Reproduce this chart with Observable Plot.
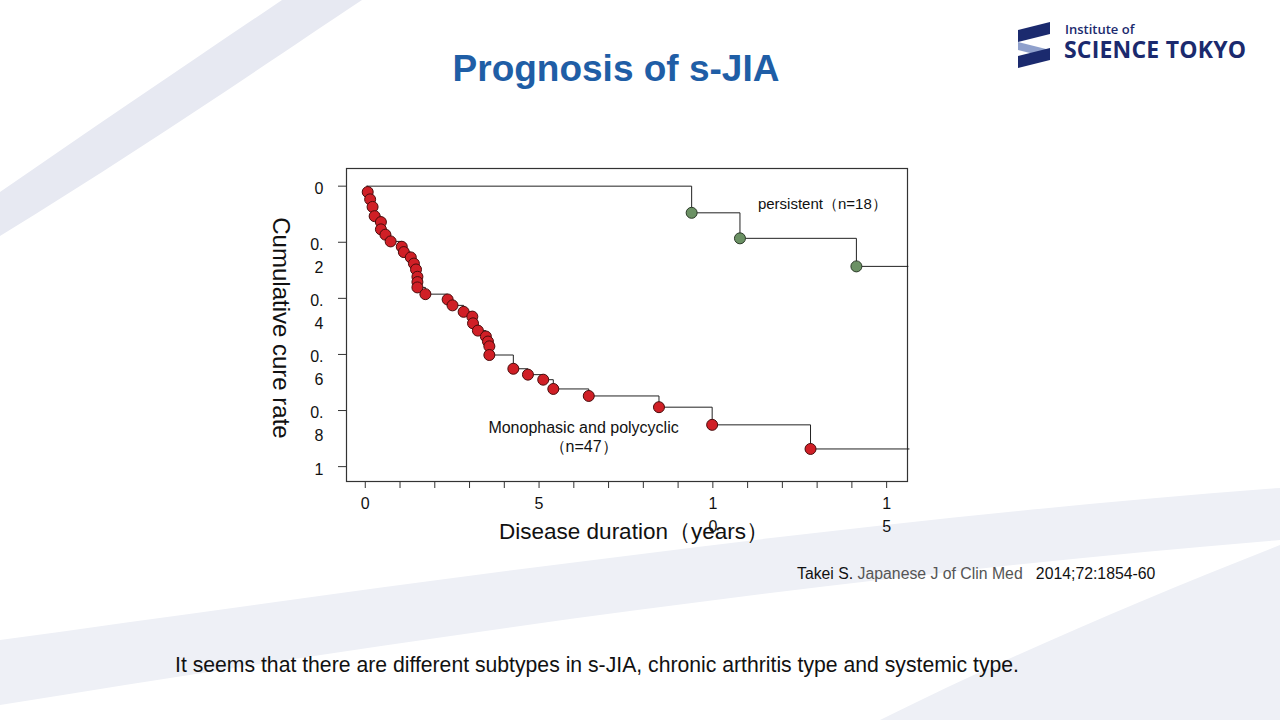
<!DOCTYPE html>
<html>
<head>
<meta charset="utf-8">
<script src="https://cdn.jsdelivr.net/npm/d3@7"></script>
<script src="https://cdn.jsdelivr.net/npm/@observablehq/plot@0.6"></script>
<style>
  html, body { margin: 0; padding: 0; background: #fff; }
  #slide { position: relative; width: 1280px; height: 720px; overflow: hidden; background: #fff;
           font-family: "Liberation Sans", Arial, sans-serif; color: #111; }
  .c { position: absolute; transform: translate(-50%, -50%); white-space: nowrap; }
  #bg { position: absolute; left: 0; top: 0; }
  #chart { position: absolute; left: 260px; top: 150px; }
</style>
</head>
<body>
<div id="slide">
  <svg id="bg" width="1280" height="720">
    <path d="M0,192 C90,130 190,62 282,0 L362,0 C260,68 140,150 0,236 Z" fill="#e7e9f2"/>
    <path d="M0,640 C400,585 850,520 1280,488 L1280,540 C850,575 400,640 0,705 Z" fill="#eef0f6"/>
    <path d="M880,720 C1000,660 1140,600 1280,545 L1280,720 Z" fill="#eef0f6"/>
  </svg>
  <div class="c" style="left:616px;top:69px;font-size:37px;font-weight:bold;color:#1f5ea6;">Prognosis of s-JIA</div>
  <svg style="position:absolute;left:1016px;top:20px" width="40" height="52">
    <path d="M2,10 L34,2 L34,14 L2,22 Z" fill="#1b2a6e"/>
    <path d="M2,22 L34,30 L34,38 L2,30 Z" fill="#8fa0cc"/>
    <path d="M2,36 L34,28 L34,40 L2,48 Z" fill="#1b2a6e"/>
  </svg>
  <div style="position:absolute;left:1065px;top:20px;font-family:'Open Sans','Noto Sans',sans-serif;font-size:13px;font-weight:600;color:#1b2a6e;">Institute of</div>
  <div style="position:absolute;left:1064px;top:33px;font-family:'Open Sans','Noto Sans',sans-serif;font-size:23px;font-weight:700;color:#1b2a6e;letter-spacing:0.2px;">SCIENCE TOKYO</div>
  <div id="chart"></div>
  <div class="c" style="left:281px;top:328px;font-size:24px;transform:translate(-50%,-50%) rotate(90deg);">Cumulative cure rate</div>
  <div class="c" style="left:634px;top:531px;font-size:22.5px;">Disease duration（years）</div>
  <div style="position:absolute;left:797px;top:565px;font-size:15.8px;white-space:nowrap;">Takei S. <span style="color:#555">Japanese J of Clin Med</span>&nbsp;&nbsp; 2014;72:1854-60</div>
  <div class="c" style="left:597px;top:665px;font-size:21.2px;">It seems that there are different subtypes in s-JIA, chronic arthritis type and systemic type.</div>
</div>
<script>
// Monophasic and polycyclic (n=47): event times (years) and cumulative cure rate
const redYears = [0.07,0.14,0.21,0.27,0.45,0.45,0.58,0.73,1.05,1.11,1.31,1.40,1.46,1.50,1.50,1.50,1.73,2.37,2.51,2.83,3.08,3.10,3.24,3.47,3.53,3.57,3.57,4.26,4.68,5.12,5.41,6.43,8.45,9.98,12.81];
const redRate  = [0.021,0.047,0.074,0.107,0.128,0.154,0.173,0.197,0.216,0.235,0.254,0.276,0.297,0.323,0.342,0.361,0.385,0.404,0.425,0.448,0.465,0.489,0.515,0.536,0.554,0.571,0.602,0.651,0.672,0.690,0.723,0.748,0.788,0.851,0.937];
// persistent (n=18)
const greenYears = [9.39, 10.78, 14.13];
const greenRate  = [0.095, 0.186, 0.286];
// follow-up window of the curves
const startYear = 0.05;
const endYear = 15.62;
// axis ticks and labels
const xTickYears = [0,1,2,3,4,5,6,7,8,9,10,11,12,13,14,15];
const xLabelYears = [0, 5, 10, 15];
const xLabelTexts = ["0", "5", "1\n0", "1\n5"];
const yTicks = [0, 0.2, 0.4, 0.6, 0.8, 1];
const yTickLabels = ["0", "0.\n2", "0.\n4", "0.\n6", "0.\n8", "1"];
// annotation texts
const labelPersistent = {text: "persistent（n=18）", year: 13.15, rate: 0.065};
const labelMono = {text: "Monophasic and polycyclic\n（n=47）", year: 6.28, rate: 0.892};

const redPts = redYears.map((t, i) => ({year: t, rate: redRate[i]}));
const greenPts = greenYears.map((t, i) => ({year: t, rate: greenRate[i]}));
const redLine = [{year: startYear, rate: 0}, ...redPts, {year: endYear + 0.03, rate: redRate[redRate.length - 1]}];
const greenLine = [{year: startYear, rate: 0}, ...greenPts, {year: endYear, rate: greenRate[greenRate.length - 1]}];
const xLab = new Map(xLabelYears.map((d, i) => [d, xLabelTexts[i]]));
const yLab = new Map(yTicks.map((d, i) => [d, yTickLabels[i]]));

const chart = Plot.plot({
  width: 680, height: 400,
  marginLeft: 86, marginTop: 18, marginRight: 33, marginBottom: 69,
  x: {domain: [-0.54, 15.6]},
  y: {domain: [-0.063, 1.053], reverse: true},
  style: {fontFamily: "'Liberation Sans', Arial, sans-serif", fontSize: "16px", color: "#111", background: "transparent"},
  marks: [
    Plot.frame({stroke: "#333", strokeWidth: 1.2}),
    Plot.axisX({ticks: xTickYears, tickFormat: d => xLab.get(d) ?? "", tickSize: 7, tickPadding: 4,
                lineHeight: 1.44, label: null, stroke: "#333", fontSize: 16}),
    // y tick marks
    Plot.axisY({ticks: yTicks, tickFormat: () => "", tickSize: 8, label: null, stroke: "#333"}),
    // y tick labels (wrapped as in the original)
    Plot.axisY({ticks: yTicks, tickFormat: d => yLab.get(d) ?? "", tickSize: 0, tickPadding: 23,
                lineAnchor: "top", dy: -8, lineHeight: 1.4, label: null, fontSize: 16}),
    Plot.line(greenLine, {x: "year", y: "rate", curve: "step-after", stroke: "#222", strokeWidth: 1}),
    Plot.line(redLine, {x: "year", y: "rate", curve: "step-after", stroke: "#222", strokeWidth: 1}),
    Plot.dot(greenPts, {x: "year", y: "rate", r: 5.5, fill: "#6b9164", stroke: "#2b3a28", strokeWidth: 1}),
    Plot.dot(redPts, {x: "year", y: "rate", r: 5.5, fill: "#d01f26", stroke: "#4a0c0c", strokeWidth: 1}),
    Plot.text([labelPersistent], {x: "year", y: "rate", text: "text", fontSize: 15, fill: "#111"}),
    Plot.text([labelMono], {x: "year", y: "rate", text: "text", fontSize: 16, lineHeight: 1.2, fill: "#111"})
  ]
});
document.getElementById("chart").appendChild(chart);
</script>
</body>
</html>
